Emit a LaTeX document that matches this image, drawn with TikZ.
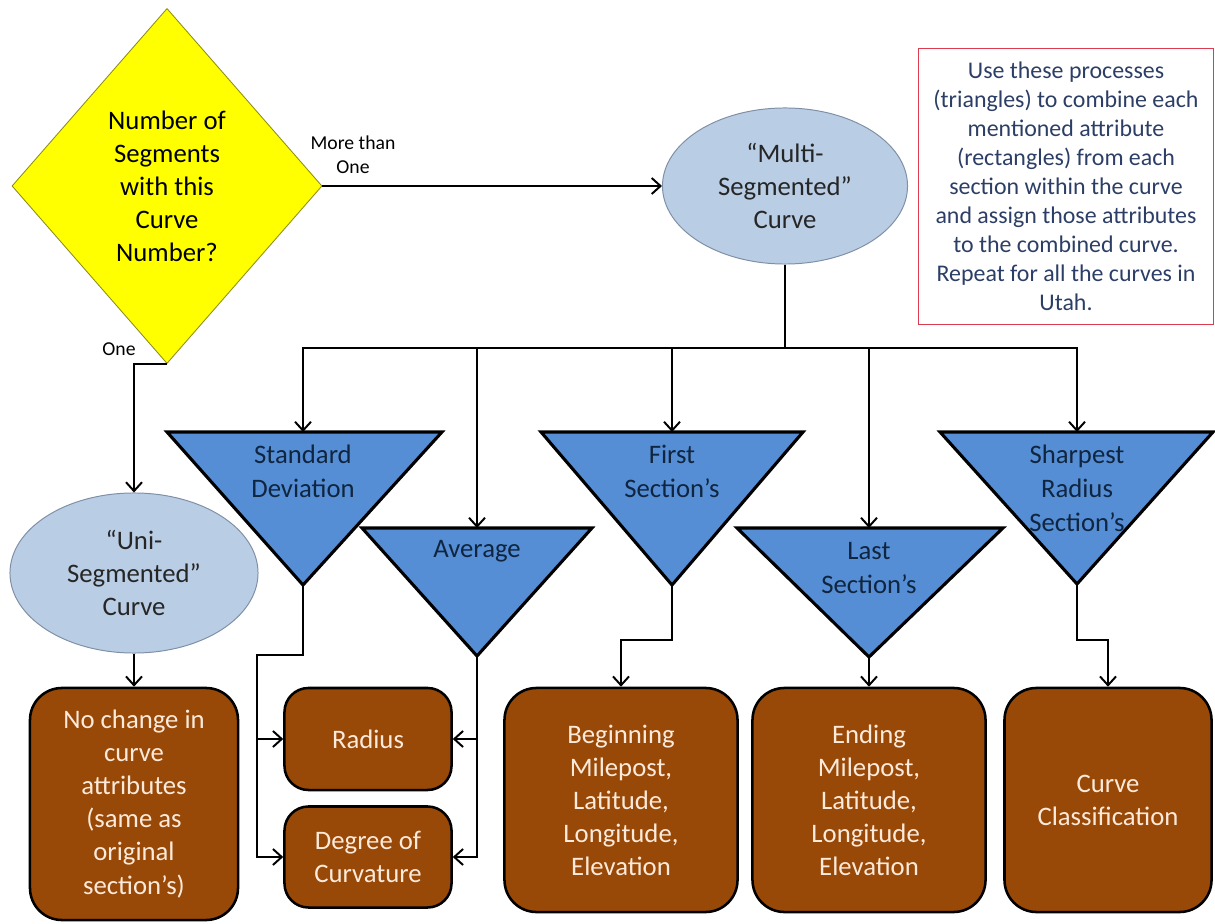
\documentclass[tikz,border=0pt]{standalone}
\usepackage{fontspec}
\setmainfont{Carlito}
\usetikzlibrary{shapes.geometric,arrows.meta}
\definecolor{gelb}{HTML}{FFFF00}
\definecolor{oliv}{HTML}{8C8C1A}
\definecolor{hellblau}{HTML}{B9CDE5}
\definecolor{graublau}{HTML}{7F8FA6}
\definecolor{mittelblau}{HTML}{558ED5}
\definecolor{dunkelblau}{HTML}{10253F}
\definecolor{braun}{HTML}{984807}
\definecolor{hautfarbe}{HTML}{FDEADA}
\definecolor{hinweisrot}{HTML}{DC3C50}
\definecolor{hinweistext}{HTML}{2C3E66}

\begin{document}
\begin{tikzpicture}[x=0.025cm, y=-0.025cm,
	gross/.style={font=\fontsize{19}{23.5}\selectfont},
	klein/.style={font=\fontsize{14}{17}\selectfont, align=center},
	frage/.style={diamond, draw=oliv, fill=gelb, line width=0.6pt, inner sep=0pt,
		minimum width=7.75cm, minimum height=8.875cm, align=center, gross},
	oval/.style={ellipse, draw=graublau, fill=hellblau, line width=0.7pt,
		text=black!85, align=center, gross},
	dreieck/.style={draw=black, fill=mittelblau, line width=2.2pt, line join=miter},
	dreiecktext/.style={text=dunkelblau, align=center,
		font=\fontsize{19}{24.2}\selectfont},
	kasten/.style={rectangle, rounded corners=0.8cm, draw=black, fill=braun,
		line width=1.8pt, text=hautfarbe, align=center,
		font=\fontsize{19}{23.5}\selectfont},
	linie/.style={line width=1.4pt},
	pfeil/.style={line width=1.4pt, -{Straight Barb[length=0.22cm, width=0.4cm]}}]
	\useasboundingbox (0,0) rectangle (1215,924);

	% Entscheidung
	\node[frage] (anzahl) at (167,186) {Number of\\Segments\\with this\\Curve\\Number?};
	\node[klein] (mehr) at (353,155) {More than\\One};
	\node[klein] (eins) at (119,349) {One};

	% Kurven
	\node[oval, minimum width=6.125cm, minimum height=3.9cm] (multi) at (785,186)
		{“Multi-\\Segmented”\\Curve};
	\node[oval, minimum width=6.2cm, minimum height=4cm] (uni) at (134,573)
		{“Uni-\\Segmented”\\Curve};

	% Hinweis
	\node[draw=hinweisrot, line width=0.6pt, minimum width=7.375cm, minimum height=6.9cm,
		text=hinweistext, align=center, font=\fontsize{17}{20.6}\selectfont]
		(hinweis) at (1066,186) {Use these processes\\(triangles) to combine each\\
		mentioned attribute\\(rectangles) from each\\section within the curve\\
		and assign those attributes\\to the combined curve.\\
		Repeat for all the curves in\\Utah.};

	% Dreiecke
	\filldraw[dreieck] (167,432) -- (442,432) -- (303,585) -- cycle;
	\coordinate (sdoben) at (303,432);
	\coordinate (sdspitze) at (303,585);
	\node[dreiecktext] (sd) at (303,471) {Standard\\Deviation};
	\filldraw[dreieck] (362,528) -- (592,528) -- (477,656) -- cycle;
	\coordinate (mwoben) at (477,528);
	\coordinate (mwspitze) at (477,656);
	\node[dreiecktext] (mw) at (477,551) {Average};
	\filldraw[dreieck] (541,432) -- (803,432) -- (672,585) -- cycle;
	\coordinate (fsoben) at (672,432);
	\coordinate (fsspitze) at (672,585);
	\node[dreiecktext] (fs) at (672,471) {First\\Section’s};
	\filldraw[dreieck] (737,528) -- (1003,528) -- (869,657) -- cycle;
	\coordinate (lsoben) at (869,528);
	\coordinate (lsspitze) at (869,657);
	\node[dreiecktext] (ls) at (869,568) {Last\\Section’s};
	\filldraw[dreieck] (940,432) -- (1213,432) -- (1077,584) -- cycle;
	\coordinate (shoben) at (1077,432);
	\coordinate (shspitze) at (1077,584);
	\node[dreiecktext] (sh) at (1077,488) {Sharpest\\Radius\\Section’s};

	% Ergebnisse
	\node[kasten, minimum width=5.2cm, minimum height=5.8cm] (keine) at (134,804)
		{No change in\\curve\\attributes\\(same as\\original\\section’s)};
	\node[kasten, rounded corners=0.6cm, minimum width=4.175cm, minimum height=2.55cm]
		(radius) at (368,739) {Radius};
	\node[kasten, rounded corners=0.6cm, minimum width=4.175cm, minimum height=2.525cm]
		(grad) at (368,857) {Degree of\\Curvature};
	\node[kasten, minimum width=5.825cm, minimum height=5.6cm] (beginn) at (621,800)
		{Beginning\\Milepost,\\Latitude,\\Longitude,\\Elevation};
	\node[kasten, minimum width=5.825cm, minimum height=5.6cm] (ende) at (869,800)
		{Ending\\Milepost,\\Latitude,\\Longitude,\\Elevation};
	\node[kasten, minimum width=5.175cm, minimum height=5.6cm] (klasse) at (1108,800)
		{Curve\\Classification};

	% Verbindungen
	\coordinate (verteiler) at (785,348);
	\coordinate (sdknick) at (257,655);
	\draw[pfeil] (anzahl.east) -- (multi.west);
	\draw[pfeil] (anzahl.south) -| (uni.north);
	\draw[pfeil] (uni.south) -- (keine.north);
	\draw[linie] (multi.south) -- (verteiler);
	\draw[pfeil] (verteiler) -| (sdoben);
	\draw[pfeil] (verteiler) -| (mwoben);
	\draw[pfeil] (verteiler) -| (fsoben);
	\draw[pfeil] (verteiler) -| (lsoben);
	\draw[pfeil] (verteiler) -| (shoben);
	\draw[pfeil] (sdspitze) |- (sdknick) |- (radius.west);
	\draw[pfeil] (sdknick) |- (grad.west);
	\draw[pfeil] (mwspitze) |- (radius.east);
	\draw[pfeil] (mwspitze) |- (grad.east);
	\draw[pfeil] (fsspitze) -- ++(0,55) -| (beginn.north);
	\draw[pfeil] (lsspitze) -- (ende.north);
	\draw[pfeil] (shspitze) -- ++(0,56) -| (klasse.north);
\end{tikzpicture}
\end{document}
